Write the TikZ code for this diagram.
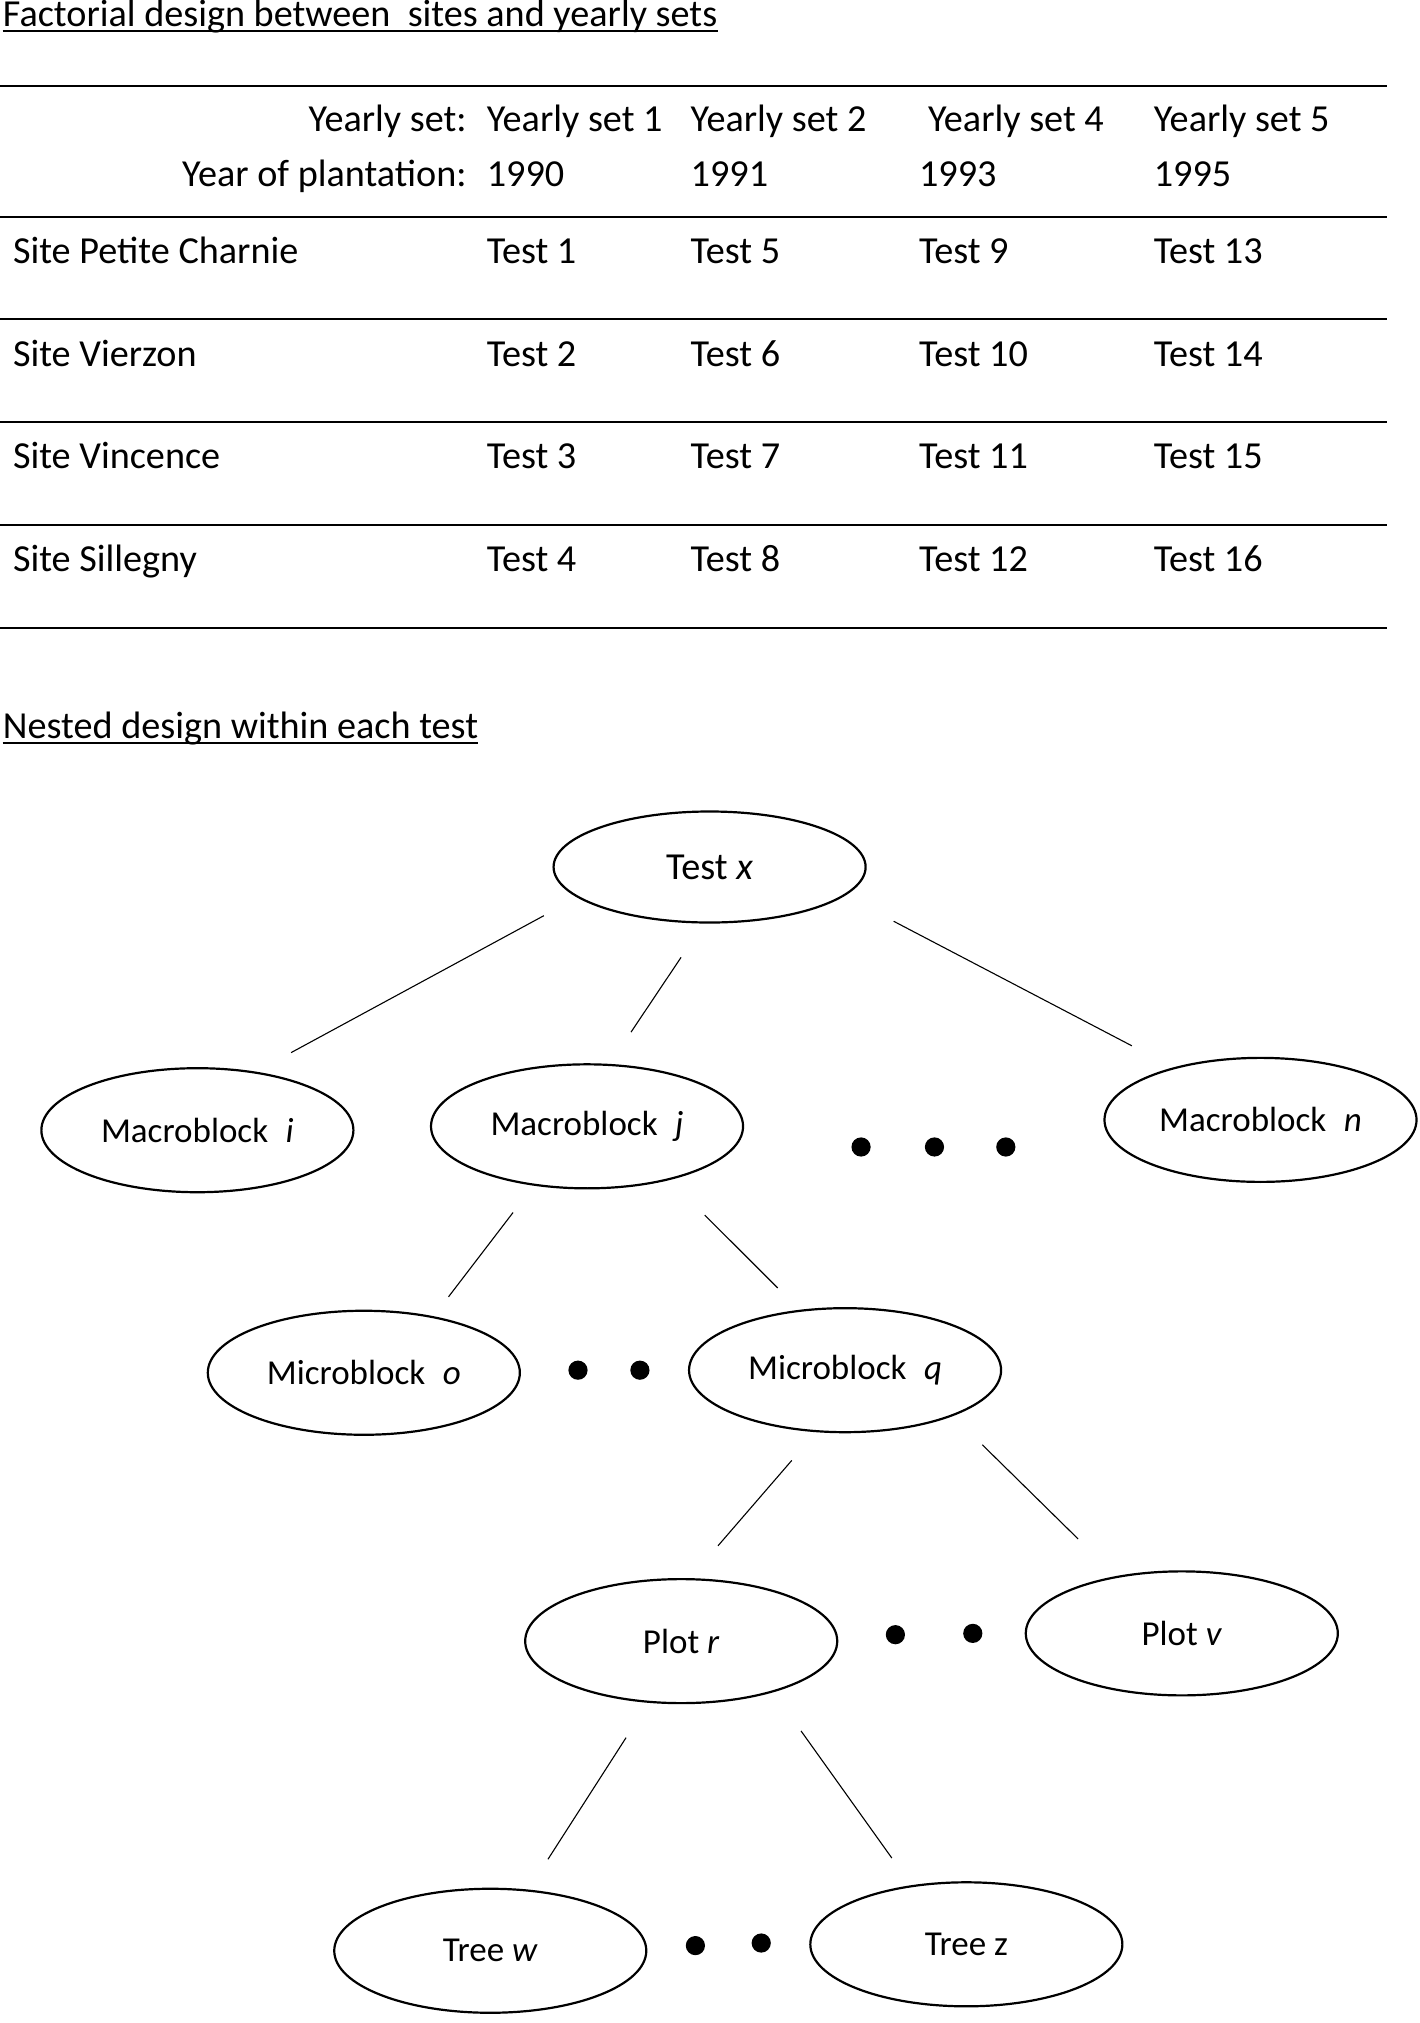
\documentclass[tikz,border=0pt]{standalone}
\usepackage{fontspec}
\setmainfont{Carlito}
\usetikzlibrary{shapes.geometric}
\tikzset{
    txt/.style={anchor=base west,inner sep=0pt,font=\fontsize{19.1}{23}\selectfont},
    rule/.style={line width=1pt},
    level/.style={draw,ellipse,line width=1.1pt,minimum width=156pt,minimum height=62pt,
        inner sep=0pt,font=\fontsize{17.5}{21}\selectfont},
    link/.style={line width=0.55pt},
    dot/.style={circle,fill,inner sep=0pt,minimum size=9.6pt}
}
\begin{document}
\begin{tikzpicture}[x=0.645pt,y=-0.645pt]
        \useasboundingbox (0,0) rectangle (1100,1568);
        %% factorial table
        \node[txt] (facttitle) at (2,20.2) {Factorial design between\ \ sites and yearly sets};
        \draw[rule] ([yshift=-2.7pt]facttitle.base west) -- ([yshift=-2.7pt]facttitle.base east);
        \foreach \y in {66.9,168,247.5,327.4,407,487} \draw[rule] (0,\y) -- (1075,\y);
        \node[txt,anchor=base east] (sethead) at (362,102) {Yearly set:};
        \node[txt,anchor=base east] (yearhead) at (362,144.7) {Year of plantation:};
        \foreach \x/\s [count=\k] in {377/1,535/2,719/4,894/5}
            \node[txt] (set\k) at (\x,102) {Yearly set \s};
        \foreach \x/\s [count=\k] in {377/1990,535/1991,712/1993,894/1995}
            \node[txt] (year\k) at (\x,144.7) {\s};
        \foreach \name/\y [count=\r] in {Petite Charnie/204,Vierzon/283.7,Vincence/363.4,Sillegny/443.1} {
            \node[txt] (site\r) at (9.8,\y) {Site \name};
            \foreach \x [count=\c] in {377,535,712,894} {
                \pgfmathtruncatemacro{\t}{\r+4*(\c-1)}
                \node[txt] (test\r\c) at (\x,\y) {Test \t};
            }
        }
        %% nested design
        \node[txt] (nesttitle) at (2,572.4) {Nested design within each test};
        \draw[rule] ([yshift=-2.3pt]nesttitle.base west) -- ([yshift=-2.3pt]nesttitle.base east);
        \node[level,minimum height=55.5pt,font=\fontsize{19.1}{23}\selectfont] (test) at (550,672) {Test \textit{x}};
        \node[level] (mbi) at (153,876) {Macroblock\enspace\textit{i}};
        \node[level] (mbj) at (455,873) {Macroblock\enspace\textit{j}};
        \node[level] (mbn) at (977,868) {Macroblock\enspace\textit{n}};
        \node[level] (mio) at (282,1064) {Microblock\enspace\textit{o}};
        \node[level] (miq) at (655,1062) {Microblock\enspace\textit{q}};
        \node[level] (plr) at (528,1272) {Plot \textit{r}};
        \node[level] (plv) at (916,1266) {Plot \textit{v}};
        \node[level] (trw) at (380,1512) {Tree \textit{w}};
        \node[level] (trz) at (749,1507) {Tree z};
        %% dots
        \foreach \x [count=\k] in {667.4,724.3,779.6} \node[dot] (dmb\k) at (\x,889) {};
        \foreach \x [count=\k] in {448,496} \node[dot] (dmi\k) at (\x,1062) {};
        \foreach \x/\y [count=\k] in {694/1267,754/1266} \node[dot] (dpl\k) at (\x,\y) {};
        \foreach \x/\y [count=\k] in {539/1508,590/1506} \node[dot] (dtr\k) at (\x,\y) {};
        %% links
        \draw[link,shorten <=19pt,shorten >=20pt] (test.193) -- (mbi.45);
        \draw[link,shorten <=20.3pt,shorten >=19.1pt] (test.264) -- (mbj.70);
        \draw[link,shorten <=27.5pt,shorten >=23.3pt] (test.348) -- (mbn.149);
        \draw[link,shorten <=16.9pt,shorten >=12.2pt] (mbj.228) -- (mio.39.5);
        \draw[link,shorten <=24.8pt,shorten >=15.5pt] (mbj.327) -- (miq.127);
        \draw[link,shorten <=18.6pt,shorten >=21.3pt] (miq.245) -- (plr.82.5);
        \draw[link,shorten <=20.5pt,shorten >=26.5pt] (miq.337) -- (plv.139);
        \draw[link,shorten <=20.7pt,shorten >=18pt] (plr.242.5) -- (trw.58.4);
        \draw[link,shorten <=23.8pt,shorten >=16.7pt] (plr.331.5) -- (trz.133);
    \end{tikzpicture}
\end{document}
